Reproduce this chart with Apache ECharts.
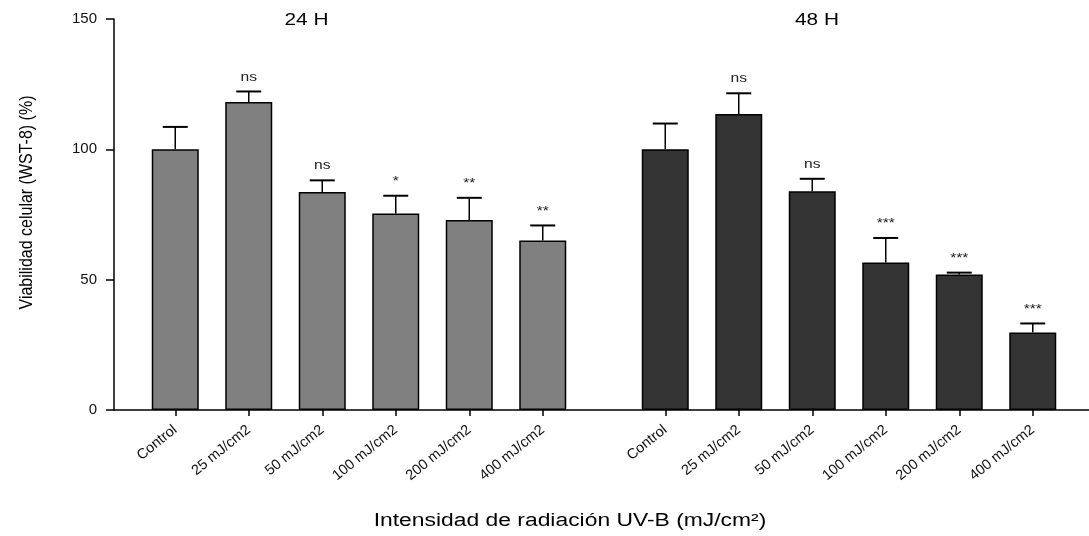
<!DOCTYPE html>
<html>
<head>
<meta charset="utf-8">
<script src="https://cdn.jsdelivr.net/npm/echarts@6/dist/echarts.min.js"></script>
<style>
html,body{margin:0;padding:0;background:#fff;}
#chart{width:1089px;height:536px;}
</style>
</head>
<body>
<div id="chart"></div>
<script>
// ---- data ----
const categories = ['Control', '25 mJ/cm2', '50 mJ/cm2', '100 mJ/cm2', '200 mJ/cm2', '400 mJ/cm2'];
const groups = ['24 H', '48 H'];
const mean24 = [100, 118.2, 83.6, 75.4, 72.9, 65.0];
const sd24   = [8.6, 4.0, 4.5, 6.8, 8.5, 5.8];
const sig24  = ['', 'ns', 'ns', '*', '**', '**'];
const mean48 = [100, 113.6, 83.9, 56.6, 52.0, 29.7];
const sd48   = [9.9, 7.9, 4.8, 9.4, 0.7, 3.5];
const sig48  = ['', 'ns', 'ns', '***', '***', '***'];
const yTicks = {min: 0, max: 150, interval: 50};
const yName = 'Viabilidad celular (WST-8) (%)';
const xName = 'Intensidad de radiación UV-B (mJ/cm²)';

// ---- layout (slot grid on a category axis) ----
const LEAD = 2, STEP = 3, GROUP_GAP = 5, TOTAL = 40;
function slot(g, i) { return LEAD + g * ((categories.length - 1) * STEP + GROUP_GAP) + i * STEP; }

const means = [mean24, mean48], sds = [sd24, sd48], sigs = [sig24, sig48];
const axisData = new Array(TOTAL).fill('');
const barData = [new Array(TOTAL).fill(null), new Array(TOTAL).fill(null)];
const errData = [];
for (let g = 0; g < 2; g++) {
  for (let i = 0; i < categories.length; i++) {
    const s = slot(g, i);
    axisData[s] = categories[i];
    barData[g][s] = means[g][i];
    errData.push([s, means[g][i], sds[g][i], g, i]);
  }
}

const FONT = '"Liberation Sans", Arial, sans-serif';
const chart = echarts.init(document.getElementById('chart'), null, {renderer: 'canvas'});
const showSlot = (idx, val) => val !== '';

const option = {
  backgroundColor: '#fff',
  animation: false,
  grid: {left: 114, top: 19, width: 980, height: 391, containLabel: false, outerBoundsMode: 'none'},
  xAxis: {
    type: 'category',
    data: axisData,
    axisLine: {show: true, lineStyle: {color: '#000', width: 1.5}},
    axisTick: {show: true, interval: showSlot, alignWithLabel: true, length: 6, lineStyle: {color: '#000', width: 1.5}},
    axisLabel: {interval: showSlot, rotate: 39, fontSize: 14.5, fontFamily: FONT, color: '#111', margin: 18},
    splitLine: {show: false}
  },
  yAxis: {
    type: 'value',
    min: yTicks.min, max: yTicks.max, interval: yTicks.interval,
    axisLine: {show: true, lineStyle: {color: '#000', width: 1.5}},
    axisTick: {show: true, length: 8, lineStyle: {color: '#000', width: 1.5}},
    axisLabel: {fontSize: 15, fontFamily: FONT, color: '#111', margin: 17},
    splitLine: {show: false}
  },
  series: [
    {
      type: 'bar', name: groups[0], data: barData[0], barWidth: 47, barGap: '-100%',
      itemStyle: {color: '#808080', borderColor: '#000', borderWidth: 1.5}
    },
    {
      type: 'bar', name: groups[1], data: barData[1], barWidth: 47, barGap: '-100%',
      itemStyle: {color: '#333333', borderColor: '#000', borderWidth: 1.5}
    },
    {
      type: 'custom', clip: false, z: 5,
      data: errData,
      encode: {x: 0, y: 1},
      renderItem: function (params, api) {
        const x = api.value(0), m = api.value(1), sd = api.value(2);
        const g = api.value(3), i = api.value(4);
        const base = api.coord([x, m]);
        const top = api.coord([x, m + sd]);
        const hw = 12.5;
        const children = [
          {type: 'line', shape: {x1: base[0], y1: base[1], x2: top[0], y2: top[1]}, style: {stroke: '#000', lineWidth: 1.5}},
          {type: 'line', shape: {x1: top[0] - hw, y1: top[1], x2: top[0] + hw, y2: top[1]}, style: {stroke: '#000', lineWidth: 2}}
        ];
        const label = sigs[g][i];
        if (label) {
          children.push({
            type: 'text', x: top[0], y: top[1] - 8, scaleX: 1.2,
            style: {text: label, font: '13px ' + FONT, fill: '#222', align: 'center', verticalAlign: 'bottom', textAlign: 'center', textVerticalAlign: 'bottom'}
          });
        }
        return {type: 'group', children: children};
      }
    }
  ],
  graphic: [
    {type: 'text', x: 306.5, y: 21, scaleX: 1.3,
     style: {text: groups[0], font: '16px ' + FONT, fill: '#000', align: 'center', verticalAlign: 'middle', textAlign: 'center', textVerticalAlign: 'middle'}},
    {type: 'text', x: 817, y: 21, scaleX: 1.3,
     style: {text: groups[1], font: '16px ' + FONT, fill: '#000', align: 'center', verticalAlign: 'middle', textAlign: 'center', textVerticalAlign: 'middle'}},
    {type: 'text', x: 27, y: 202.5, rotation: Math.PI / 2, scaleY: 1.15,
     style: {text: yName, font: '16px ' + FONT, fill: '#000', align: 'center', verticalAlign: 'middle', textAlign: 'center', textVerticalAlign: 'middle'}},
    {type: 'text', x: 570, y: 521, scaleX: 1.27,
     style: {text: xName, font: '18px ' + FONT, fill: '#000', align: 'center', verticalAlign: 'middle', textAlign: 'center', textVerticalAlign: 'middle'}}
  ]
};
chart.setOption(option);
</script>
</body>
</html>
